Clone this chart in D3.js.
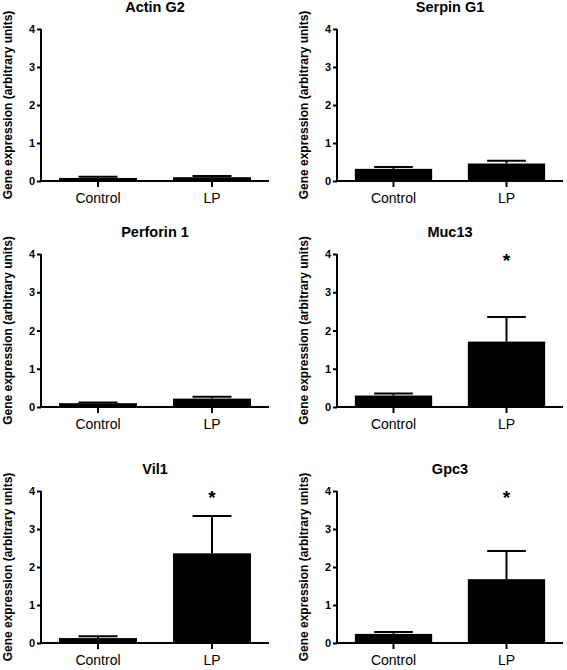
<!DOCTYPE html>
<html>
<head>
<meta charset="utf-8">
<script src="https://cdn.jsdelivr.net/npm/d3@7"></script>
<style>
  html, body { margin: 0; padding: 0; background: #fff; }
  svg { display: block; font-family: Arial, "Liberation Sans", sans-serif; }
</style>
</head>
<body>
<div id="chart"></div>
<script>
// ---- data ----
const genes = ["Actin G2", "Serpin G1", "Perforin 1", "Muc13", "Vil1", "Gpc3"];
const groups = ["Control", "LP"];
const controlMean = [0.08, 0.32, 0.10, 0.30, 0.13, 0.24];
const controlErr  = [0.03, 0.05, 0.02, 0.05, 0.05, 0.05];
const lpMean      = [0.10, 0.46, 0.22, 1.71, 2.36, 1.68];
const lpErr       = [0.03, 0.07, 0.05, 0.64, 0.98, 0.74];
const significant = [false, false, false, true, true, true];
const yTicks = [0, 1, 2, 3, 4];
const yLabel = "Gene expression (arbitrary units)";

// ---- layout ----
const W = 567, H = 670;
const colX = [[41, 269], [337, 563]];
const rowY = [[29, 181], [254, 407], [491, 643]];
const FONT = "Arial, 'Liberation Sans', sans-serif";

const svg = d3.select("#chart").append("svg")
  .attr("width", W).attr("height", H);

genes.forEach((gene, i) => {
  const col = i % 2, row = Math.floor(i / 2);
  const [x0, x1] = colX[col];
  const [yTop, yBot] = rowY[row];

  const x = d3.scaleBand().domain(groups).range([x0, x1])
    .paddingInner(0.316).paddingOuter(0.158);
  const y = d3.scaleLinear().domain([0, 4]).range([yBot, yTop]);

  const g = svg.append("g");
  const vals = [
    { grp: "Control", mean: controlMean[i], err: controlErr[i] },
    { grp: "LP", mean: lpMean[i], err: lpErr[i] }
  ];

  // error bars (upper only)
  vals.forEach(d => {
    const cx = x(d.grp) + x.bandwidth() / 2;
    const capW = x.bandwidth() / 2;
    g.append("line")
      .attr("x1", cx).attr("x2", cx)
      .attr("y1", y(d.mean)).attr("y2", y(d.mean + d.err))
      .attr("stroke", "#000").attr("stroke-width", 2);
    g.append("line")
      .attr("x1", cx - capW / 2).attr("x2", cx + capW / 2)
      .attr("y1", y(d.mean + d.err)).attr("y2", y(d.mean + d.err))
      .attr("stroke", "#000").attr("stroke-width", 2);
  });

  // bars
  g.selectAll("rect.bar").data(vals).enter().append("rect")
    .attr("class", "bar")
    .attr("x", d => x(d.grp))
    .attr("width", x.bandwidth())
    .attr("y", d => y(d.mean))
    .attr("height", d => yBot - y(d.mean))
    .attr("fill", "#000");

  // y axis
  const ya = g.append("g").attr("transform", `translate(${x0},0)`)
    .call(d3.axisLeft(y).tickValues(yTicks).tickFormat(d3.format("d"))
      .tickSize(4).tickPadding(2));
  ya.select(".domain").attr("stroke-width", 2).attr("d", `M0,${yTop}V${yBot}`);
  ya.selectAll(".tick line").attr("stroke-width", 2);
  ya.selectAll(".tick text").attr("font-size", 11).attr("font-weight", "bold")
    .attr("font-family", FONT).attr("fill", "#000");

  // x axis
  const xa = g.append("g").attr("transform", `translate(0,${yBot})`)
    .call(d3.axisBottom(x).tickSize(6).tickPadding(6));
  xa.select(".domain").attr("stroke-width", 2).attr("d", `M${x0},0H${x1}`);
  xa.selectAll(".tick line").attr("stroke-width", 2);
  xa.selectAll(".tick text").attr("font-size", 14)
    .attr("font-family", FONT).attr("fill", "#000");

  // title
  g.append("text")
    .attr("x", (x0 + x1) / 2).attr("y", yTop - 17)
    .attr("text-anchor", "middle")
    .attr("font-size", 14.5).attr("font-weight", "bold")
    .text(gene);

  // y label
  g.append("text")
    .attr("transform", `translate(${x0 - 29},${(yTop + yBot) / 2}) rotate(-90)`)
    .attr("text-anchor", "middle")
    .attr("font-size", 12).attr("font-weight", "bold")
    .text(yLabel);

  // significance star
  if (significant[i]) {
    g.append("text")
      .attr("x", x("LP") + x.bandwidth() / 2)
      .attr("y", y(4) + 13)
      .attr("text-anchor", "middle")
      .attr("font-size", 19).attr("font-weight", "bold")
      .text("*");
  }
});
</script>
</body>
</html>
